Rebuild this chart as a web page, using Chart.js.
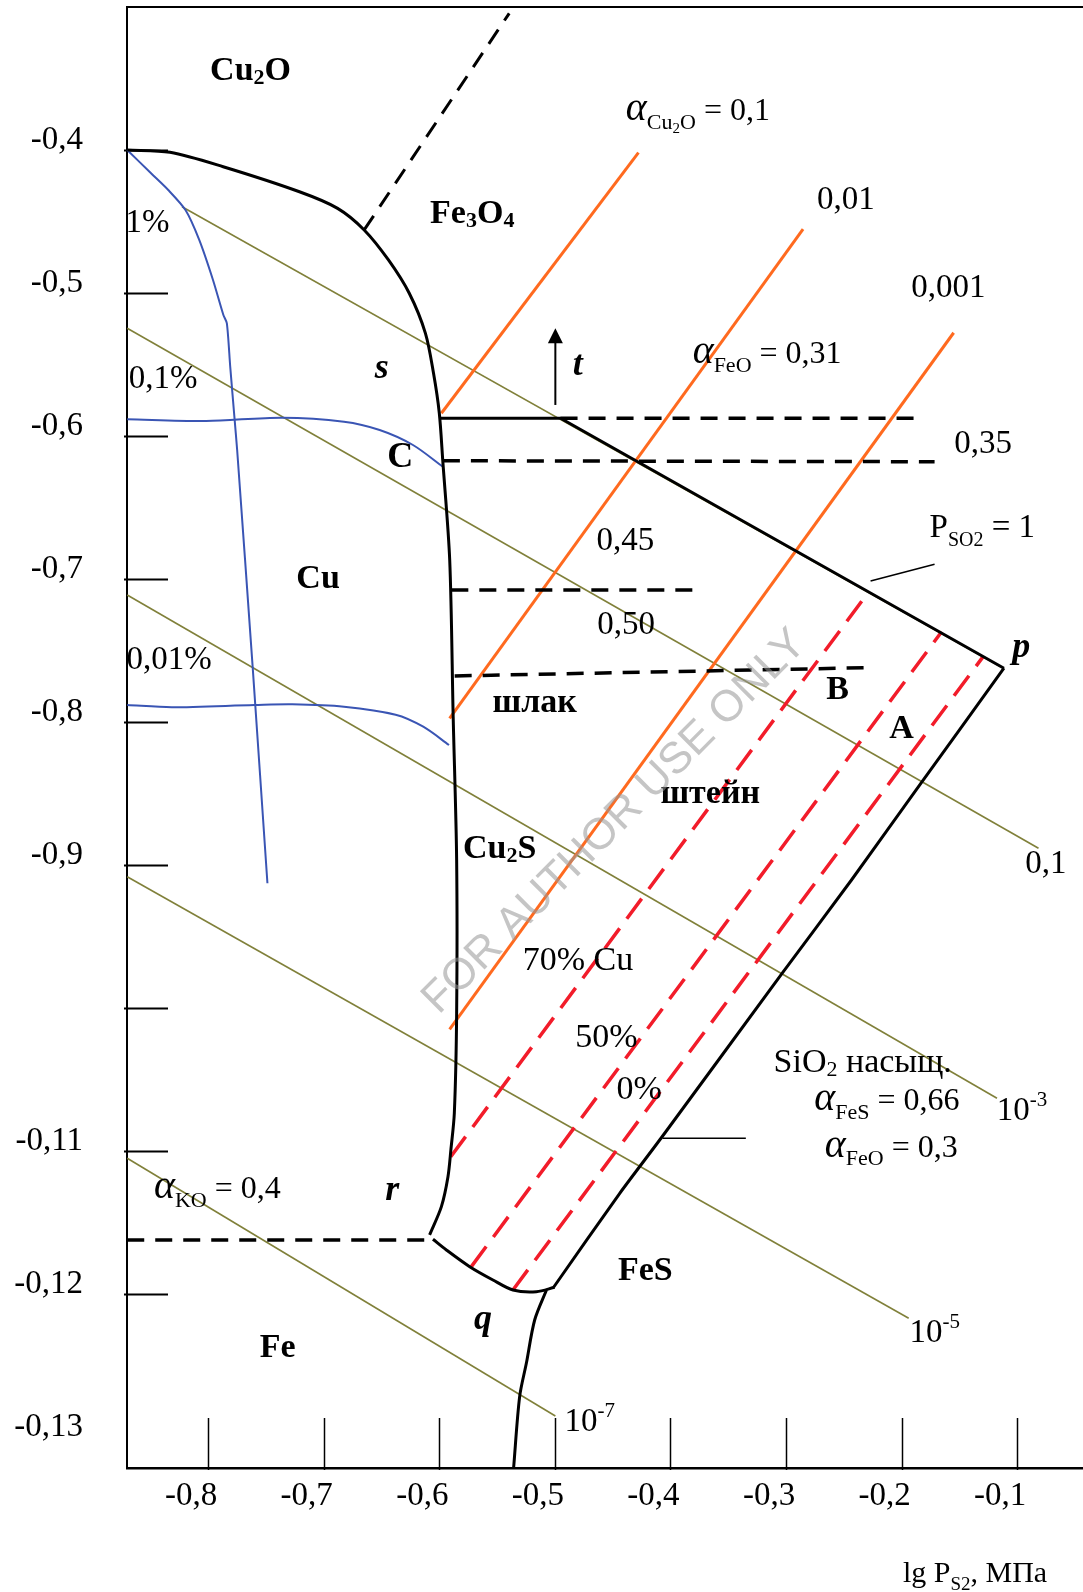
<!DOCTYPE html>
<html>
<head>
<meta charset="utf-8">
<script src="https://cdn.jsdelivr.net/npm/chart.js@4.4.1/dist/chart.umd.min.js"></script>
<style>
  html, body { margin: 0; padding: 0; background: #fff; }
  #wrap { width: 1083px; height: 1592px; }
</style>
</head>
<body>
<div id="wrap"><canvas id="c" width="1083" height="1592"></canvas></div>
<script>
// ---- axes: lg P_S2 (x) against the oxygen potential (y) ----
const xRange = [-0.8702, -0.0431];
const yRange = [-1.3217, -0.30];
const xTickValues = [-0.8, -0.7, -0.6, -0.5, -0.4, -0.3, -0.2, -0.1];
const xTickLabels = ['-0,8', '-0,7', '-0,6', '-0,5', '-0,4', '-0,3', '-0,2', '-0,1'];
const yTickValues = [-0.4, -0.5, -0.6, -0.7, -0.8, -0.9, -1.0, -1.1, -1.2, -1.3];
const yTickLabels = ['-0,4', '-0,5', '-0,6', '-0,7', '-0,8', '-0,9', '', '-0,11', '-0,12', '-0,13'];
const yMarkValues = [-0.4, -0.5, -0.6, -0.7, -0.8, -0.9, -1.0, -1.1, -1.2];

// ---- phase boundaries (solid black) ----
const cuBoundary = [[-0.870,-0.400],[-0.833,-0.4016],[-0.787,-0.4117],[-0.721,-0.4292],[-0.688,-0.4408],
  [-0.665,-0.4559],[-0.644,-0.4769],[-0.626,-0.5002],[-0.612,-0.5282],[-0.605,-0.5562],[-0.600,-0.5841],
  [-0.597,-0.6173],[-0.591,-0.6867],[-0.588,-0.7963],[-0.585,-0.8965],[-0.585,-1.0035],[-0.587,-1.0734],
  [-0.590,-1.0993],[-0.5925,-1.1180],[-0.5982,-1.1389],[-0.6084,-1.1587]];
const slagMatteBase = [[-0.6055,-1.1617],[-0.5939,-1.1692],[-0.5737,-1.1809],[-0.5536,-1.1902],
  [-0.5363,-1.1972],[-0.5160,-1.1984],[-0.5002,-1.1953]];
const fesBoundary = [[-0.5011,-1.1953],[-0.4439,-1.1296],[-0.4082,-1.0911],[-0.3033,-0.9757],
  [-0.2434,-0.9105],[-0.1834,-0.8429],[-0.1115,-0.7624]];
const so2Boundary = [[-0.600,-0.5876],[-0.4951,-0.5876],[-0.1115,-0.7624]];
const feBoundary = [[-0.5073,-1.1972],[-0.5175,-1.2182],[-0.5247,-1.2485],[-0.5305,-1.2718],[-0.5357,-1.3215]];

// ---- dashed black lines ----
const magnetiteLine = [[-0.665,-0.4559],[-0.5395,-0.3044]];
const feo031 = [[-0.4951,-0.5876],[-0.1849,-0.5876]];
const feo035 = [[-0.5969,-0.6173],[-0.1715,-0.6180]];
const feo045 = [[-0.5896,-0.7077],[-0.3723,-0.7077]];
const feo050 = [[-0.5867,-0.7678],[-0.2269,-0.7620]];
const ko04 = [[-0.870,-1.1622],[-0.6055,-1.1622]];

// ---- Cu2O activity (orange) ----
const cu2o01 = [[-0.5982,-0.5841],[-0.4277,-0.4019]];
const cu2o001 = [[-0.5911,-0.7974],[-0.2853,-0.4554]];
const cu2o0001 = [[-0.5911,-1.0149],[-0.1550,-0.5278]];

// ---- matte grade (red dashed): 70 %, 50 %, 0 % Cu ----
const matte70 = [[-0.5901,-1.1040],[-0.2285,-0.7089]];
const matte50 = [[-0.5723,-1.1809],[-0.1654,-0.7369]];
const matte0 = [[-0.5363,-1.1972],[-0.1295,-0.7543]];

// ---- P_SO2 isobars (olive): 1, 0.1, 1e-3, 1e-5, 1e-7 ----
const so2p1 = [[-0.8226,-0.4397],[-0.1146,-0.7613]];
const so2p01 = [[-0.870,-0.5247],[-0.0816,-0.8883]];
const so2p1e3 = [[-0.870,-0.7112],[-0.1175,-1.0631]];
const so2p1e5 = [[-0.870,-0.9082],[-0.1939,-1.2170]];
const so2p1e7 = [[-0.870,-1.1051],[-0.4996,-1.2853]];

// ---- copper in slag (blue): 1 %, 0.1 %, 0.01 % ----
const cuSlag1 = [[-0.870,-0.400],[-0.8494,-0.4163],[-0.8345,-0.4280],[-0.8196,-0.4420],[-0.8077,-0.4629],
  [-0.7958,-0.4909],[-0.7868,-0.5154],[-0.7838,-0.5212],[-0.7809,-0.5515],[-0.7773,-0.5865],
  [-0.7749,-0.6098],[-0.7615,-0.7613],[-0.7487,-0.9128]];
const cuSlag01 = [[-0.870,-0.5883],[-0.8017,-0.5895],[-0.7361,-0.5872],[-0.6825,-0.5900],[-0.6516,-0.5958],
  [-0.6228,-0.6063],[-0.5969,-0.6215]];
const cuSlag001 = [[-0.870,-0.7881],[-0.8315,-0.7897],[-0.7600,-0.7881],[-0.7272,-0.7876],[-0.6825,-0.7893],
  [-0.6378,-0.7949],[-0.6139,-0.8033],[-0.5916,-0.8161]];

// ---- leader lines and the temperature arrow ----
const leaderSO2 = [[-0.2269,-0.7014],[-0.1715,-0.6897]];
const leaderSiO2 = [[-0.4068,-1.0911],[-0.3348,-1.0911]];
const tArrow = [[-0.4996,-0.5783],[-0.4996,-0.5247]];

// ---- text: [text, size, style, position] ; position 0 line, 1 sub, 2 sub-sub, 3 chem index, -1 sup ----
const labels = [
  {at:[-0.7633,-0.3429], ref:34, segs:[['Cu',34,'bold',0],['2',22,'bold',3],['O',34,'bold',0]]},
  {at:[-0.5715,-0.4427], ref:34, segs:[['Fe',34,'bold',0],['3',22,'bold',3],['O',34,'bold',0],['4',22,'bold',3]]},
  {at:[-0.6497,-0.5510], ref:36, segs:[['s',36,'bold italic',0]]},
  {at:[-0.4803,-0.5490], ref:36, segs:[['t',36,'bold italic',0]]},
  {at:[-0.6338,-0.6129], ref:36, segs:[['C',36,'bold',0]]},
  {at:[-0.7049,-0.6984], ref:34, segs:[['Cu',34,'bold',0]]},
  {at:[-0.5175,-0.7846], ref:34, segs:[['шлак',34,'bold',0]]},
  {at:[-0.4390,-0.6719], ref:33, segs:[['0,45',33,'normal',0]]},
  {at:[-0.4383,-0.7308], ref:33, segs:[['0,50',33,'normal',0]]},
  {at:[-0.2554,-0.7760], ref:34, segs:[['B',34,'bold',0]]},
  {at:[-0.2000,-0.8033], ref:34, segs:[['A',34,'bold',0]]},
  {at:[-0.0965,-0.7462], ref:36, segs:[['p',36,'bold italic',0]]},
  {at:[-0.1302,-0.6628], ref:33, segs:[['P',33,'normal',0],['SO2',20,'normal',1],[' = 1',33,'normal',0]]},
  {at:[-0.3656,-0.8487], ref:34, segs:[['штейн',34,'bold',0]]},
  {at:[-0.1295,-0.6043], ref:33, segs:[['0,35',33,'normal',0]]},
  {at:[-0.3164,-0.5415], ref:32, segs:[['α',40,'italic',0],['FeO',22,'normal',1],[' = 0,31',32,'normal',0]]},
  {at:[-0.1595,-0.4948], ref:33, segs:[['0,001',33,'normal',0]]},
  {at:[-0.2482,-0.4336], ref:33, segs:[['0,01',33,'normal',0]]},
  {at:[-0.3763,-0.3714], ref:32, segs:[['α',40,'italic',0],['Cu',22,'normal',1],['2',15,'normal',2],['O',22,'normal',1],[' = 0,1',32,'normal',0]]},
  {at:[-0.8524,-0.4497], ref:33, segs:[['1%',33,'normal',0]]},
  {at:[-0.8390,-0.5588], ref:33, segs:[['0,1%',33,'normal',0]]},
  {at:[-0.8338,-0.7553], ref:33, segs:[['0,01%',33,'normal',0]]},
  {at:[-0.5478,-0.8872], ref:34, segs:[['Cu',34,'bold',0],['2',22,'bold',3],['S',34,'bold',0]]},
  {at:[-0.4800,-0.9651], ref:34, segs:[['70% Cu',34,'normal',0]]},
  {at:[-0.4555,-1.0192], ref:34, segs:[['50%',34,'normal',0]]},
  {at:[-0.4270,-1.0553], ref:34, segs:[['0%',34,'normal',0]]},
  {at:[-0.2337,-1.0367], ref:34, segs:[['SiO',34,'normal',0],['2',22,'normal',3],[' насыщ.',34,'normal',0]]},
  {at:[-0.2127,-1.0637], ref:32, segs:[['α',40,'italic',0],['FeS',22,'normal',1],[' = 0,66',32,'normal',0]]},
  {at:[-0.2090,-1.0964], ref:32, segs:[['α',40,'italic',0],['FeO',22,'normal',1],[' = 0,3',32,'normal',0]]},
  {at:[-0.4217,-1.1821], ref:34, segs:[['FeS',34,'bold',0]]},
  {at:[-0.6407,-1.1259], ref:36, segs:[['r',36,'bold italic',0]]},
  {at:[-0.7920,-1.1254], ref:32, segs:[['α',40,'italic',0],['KO',22,'normal',1],[' = 0,4',32,'normal',0]]},
  {at:[-0.5622,-1.2161], ref:36, segs:[['q',36,'bold italic',0]]},
  {at:[-0.7399,-1.2357], ref:34, segs:[['Fe',34,'bold',0]]},
  {at:[-0.0752,-0.8976], ref:33, segs:[['0,1',33,'normal',0]]},
  {at:[-0.0959,-1.0706], ref:33, segs:[['10',33,'normal',0],['-3',21,'normal',-1]]},
  {at:[-0.1714,-1.2255], ref:33, segs:[['10',33,'normal',0],['-5',21,'normal',-1]]},
  {at:[-0.4699,-1.2878], ref:33, segs:[['10',33,'normal',0],['-7',21,'normal',-1]]}
];
const axisTitle = [['lg P',30,'normal',0],['S2',19,'normal',1],[', МПа',30,'normal',0]];
const watermarkText = 'FOR AUTHOR USE ONLY';
const watermarkAt = [-0.4482, -0.8699];

const SERIF = '"Liberation Serif", "Times New Roman", serif';
const toXY = pts => pts.map(([x, y]) => ({x, y}));

function line(pts, color, width, dash, tension, order) {
  return {
    data: toXY(pts), showLine: true, fill: false,
    borderColor: color, borderWidth: width, borderDash: dash || [],
    pointRadius: 0, pointHoverRadius: 0, tension: tension || 0,
    borderCapStyle: 'butt', borderJoinStyle: 'round', order: order, clip: false
  };
}

const BLACK = '#000000', ORANGE = '#ff6a1f', RED = '#f21c2a', OLIVE = '#80803a', BLUE = '#3a55b4';
const dashBlack = [17, 11], dashRed = [25, 12];

const datasets = [
  line(cuBoundary, BLACK, 3, null, 0.3, 0),
  line(slagMatteBase, BLACK, 3, null, 0.3, 0),
  line(fesBoundary, BLACK, 3, null, 0.2, 0),
  line(so2Boundary, BLACK, 3, null, 0, 0),
  line(feBoundary, BLACK, 3, null, 0.3, 0),
  line(magnetiteLine, BLACK, 3, dashBlack, 0, 1),
  line(feo031, BLACK, 3.5, dashBlack, 0, 1),
  line(feo035, BLACK, 3.5, dashBlack, 0, 1),
  line(feo045, BLACK, 3.5, dashBlack, 0, 1),
  line(feo050, BLACK, 3.5, dashBlack, 0, 1),
  line(ko04, BLACK, 3.5, dashBlack, 0, 1),
  line(leaderSO2, BLACK, 1.5, null, 0, 1),
  line(leaderSiO2, BLACK, 1.5, null, 0, 1),
  line(cu2o01, ORANGE, 3, null, 0, 2),
  line(cu2o001, ORANGE, 3, null, 0, 2),
  line(cu2o0001, ORANGE, 3, null, 0, 2),
  line(matte70, RED, 3.5, dashRed, 0, 3),
  line(matte50, RED, 3.5, dashRed, 0, 3),
  line(matte0, RED, 3.5, dashRed, 0, 3),
  line(cuSlag1, BLUE, 2, null, 0.25, 4),
  line(cuSlag01, BLUE, 2, null, 0.3, 4),
  line(cuSlag001, BLUE, 2, null, 0.3, 4),
  line(so2p1, OLIVE, 1.6, null, 0, 5),
  line(so2p01, OLIVE, 1.6, null, 0, 5),
  line(so2p1e3, OLIVE, 1.6, null, 0, 5),
  line(so2p1e5, OLIVE, 1.6, null, 0, 5),
  line(so2p1e7, OLIVE, 1.6, null, 0, 5)
];

// rich text with sub/superscripts, centred on (cx, cy)
function drawRich(ctx, segs, ref, cx, cy, align) {
  const shift = {0: 0, 1: 0.27, 2: 0.40, 3: 0.12, '-1': -0.42};
  let total = 0;
  const widths = segs.map(([t, size, style]) => {
    ctx.font = style + ' ' + size + 'px ' + SERIF;
    const w = ctx.measureText(t).width;
    total += w;
    return w;
  });
  let x = align === 'left' ? cx : cx - total / 2;
  const base = cy + 0.34 * ref;
  ctx.textBaseline = 'alphabetic';
  ctx.textAlign = 'left';
  segs.forEach(([t, size, style, pos], i) => {
    ctx.font = style + ' ' + size + 'px ' + SERIF;
    ctx.fillText(t, x, base + shift[pos] * ref);
    x += widths[i];
  });
}

const decor = {
  id: 'decor',
  beforeDatasetsDraw(chart) {
    const {ctx, chartArea: a, scales: {x, y}} = chart;
    ctx.save();
    ctx.strokeStyle = '#000';
    // frame top
    ctx.lineWidth = 2;
    ctx.beginPath(); ctx.moveTo(a.left, a.top); ctx.lineTo(a.right, a.top); ctx.stroke();
    // tick marks drawn inward
    ctx.lineWidth = 2;
    yMarkValues.forEach(v => {
      const py = Math.round(y.getPixelForValue(v)) + 0.5;
      ctx.beginPath(); ctx.moveTo(a.left - 3, py); ctx.lineTo(a.left + 41, py); ctx.stroke();
    });
    ctx.lineWidth = 1.5;
    xTickValues.forEach(v => {
      const px = Math.round(x.getPixelForValue(v)) + 0.5;
      ctx.beginPath(); ctx.moveTo(px, a.bottom - 50); ctx.lineTo(px, a.bottom + 2); ctx.stroke();
    });
    ctx.restore();
  },
  afterDatasetsDraw(chart) {
    const {ctx, chartArea: a, scales: {x, y}} = chart;
    ctx.save();
    // temperature arrow
    const ax = x.getPixelForValue(tArrow[0][0]);
    const ay0 = y.getPixelForValue(tArrow[0][1]);
    const ay1 = y.getPixelForValue(tArrow[1][1]);
    ctx.strokeStyle = '#000'; ctx.fillStyle = '#000'; ctx.lineWidth = 2;
    ctx.beginPath(); ctx.moveTo(ax, ay0); ctx.lineTo(ax, ay1 + 12); ctx.stroke();
    ctx.beginPath(); ctx.moveTo(ax, ay1); ctx.lineTo(ax - 7.5, ay1 + 15); ctx.lineTo(ax + 7.5, ay1 + 15); ctx.closePath(); ctx.fill();
    // labels
    ctx.fillStyle = '#000';
    labels.forEach(l => {
      drawRich(ctx, l.segs, l.ref, x.getPixelForValue(l.at[0]), y.getPixelForValue(l.at[1]));
    });
    // axis title
    drawRich(ctx, axisTitle, 30, a.right - 108, a.bottom + 104);
    // watermark
    ctx.translate(x.getPixelForValue(watermarkAt[0]), y.getPixelForValue(watermarkAt[1]));
    ctx.rotate(-Math.PI / 4);
    ctx.font = '44px "Liberation Sans", Arial, sans-serif';
    ctx.textAlign = 'center'; ctx.textBaseline = 'middle';
    ctx.fillStyle = 'rgba(150,150,150,0.55)';
    ctx.fillText(watermarkText, 0, 0);
    ctx.restore();
  }
};

new Chart(document.getElementById('c'), {
  type: 'scatter',
  data: { datasets },
  options: {
    responsive: false, animation: false, devicePixelRatio: 1,
    layout: { padding: { top: 7, right: 0, left: 0, bottom: 0 } },
    plugins: { legend: { display: false }, tooltip: { enabled: false } },
    events: [],
    scales: {
      x: {
        type: 'linear', position: 'bottom', min: xRange[0], max: xRange[1],
        grid: { display: false, drawTicks: false },
        border: { display: true, color: '#000', width: 2.5 },
        afterBuildTicks: s => { s.ticks = xTickValues.map(v => ({ value: v })); },
        afterFit: s => { s.height = 124; s.paddingLeft = 0; s.paddingRight = 0; },
        ticks: {
          callback: (v, i) => xTickLabels[i], autoSkip: false, maxRotation: 0,
          font: { family: SERIF, size: 33 }, color: '#000', padding: 9, labelOffset: -17
        }
      },
      y: {
        type: 'linear', position: 'left', min: yRange[0], max: yRange[1],
        grid: { display: false, drawTicks: false },
        border: { display: true, color: '#000', width: 2 },
        afterBuildTicks: s => { s.ticks = yTickValues.map(v => ({ value: v })); },
        afterFit: s => { s.width = 127; s.paddingTop = 0; s.paddingBottom = 0; },
        ticks: {
          callback: (v, i) => yTickLabels[i], autoSkip: false,
          font: { family: SERIF, size: 33 }, color: '#000', padding: 44, labelOffset: -10
        }
      }
    }
  },
  plugins: [decor]
});
</script>
</body>
</html>
